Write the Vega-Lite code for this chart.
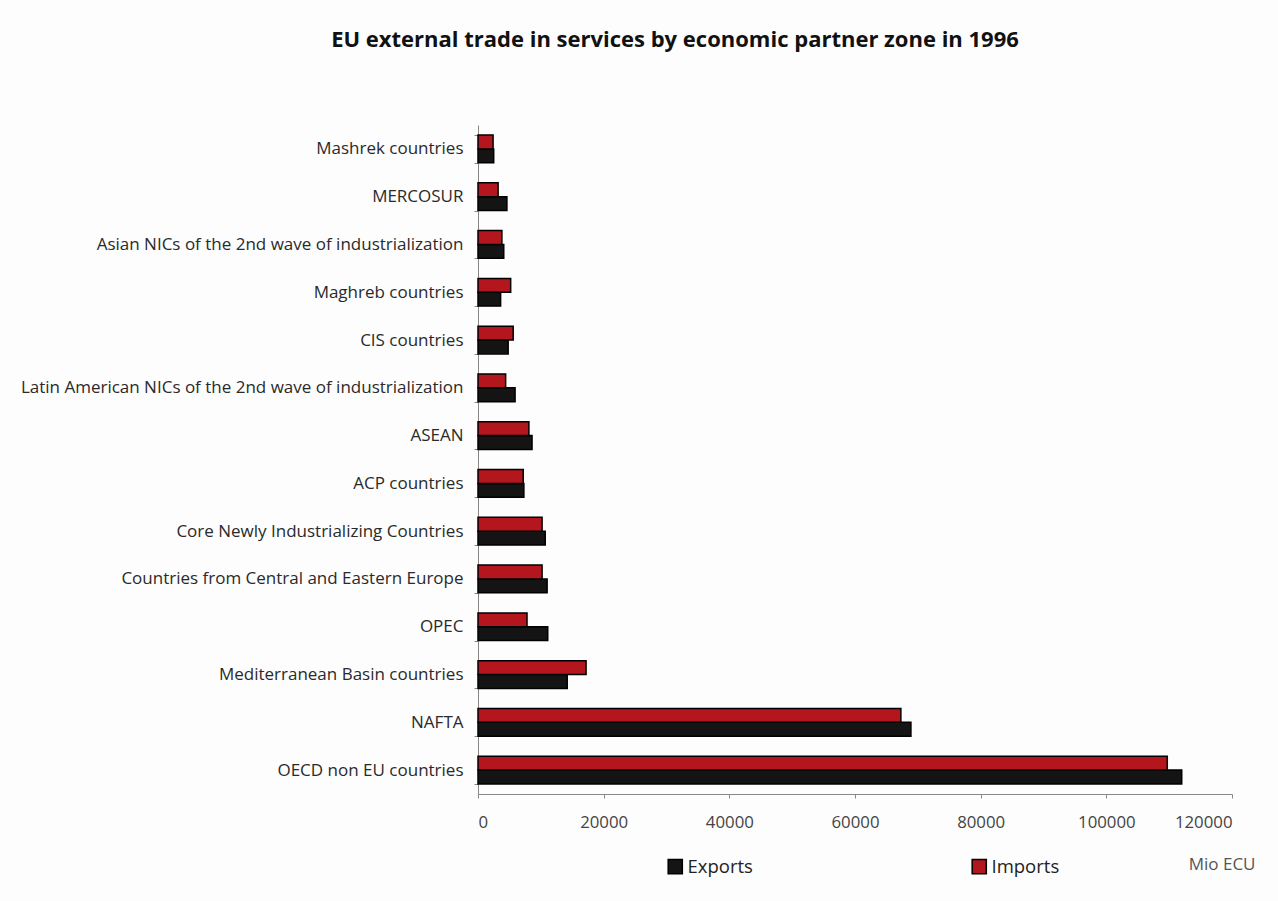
{
  "$schema": "https://vega.github.io/schema/vega-lite/v6.json",
  "autosize": {"type": "none"},
  "padding": {"left": 478, "top": 125, "right": 46, "bottom": 107},
  "width": 754,
  "height": 669,
  "background": "#fdfdfd",
  "title": {
    "text": "EU external trade in services by economic partner zone in 1996",
    "font": "Open Sans",
    "fontSize": 22,
    "fontWeight": "bold",
    "color": "#111111",
    "anchor": "middle",
    "dx": -180,
    "offset": 64
  },
  "data": {
    "values": [
      {"zone": "Mashrek countries", "flow": "Exports", "value": 2500},
      {"zone": "Mashrek countries", "flow": "Imports", "value": 2400},
      {"zone": "MERCOSUR", "flow": "Exports", "value": 4600},
      {"zone": "MERCOSUR", "flow": "Imports", "value": 3200},
      {"zone": "Asian NICs of the 2nd wave of industrialization", "flow": "Exports", "value": 4100},
      {"zone": "Asian NICs of the 2nd wave of industrialization", "flow": "Imports", "value": 3800},
      {"zone": "Maghreb countries", "flow": "Exports", "value": 3600},
      {"zone": "Maghreb countries", "flow": "Imports", "value": 5200},
      {"zone": "CIS countries", "flow": "Exports", "value": 4800},
      {"zone": "CIS countries", "flow": "Imports", "value": 5600},
      {"zone": "Latin American NICs of the 2nd wave of industrialization", "flow": "Exports", "value": 5900},
      {"zone": "Latin American NICs of the 2nd wave of industrialization", "flow": "Imports", "value": 4400},
      {"zone": "ASEAN", "flow": "Exports", "value": 8600},
      {"zone": "ASEAN", "flow": "Imports", "value": 8100},
      {"zone": "ACP countries", "flow": "Exports", "value": 7300},
      {"zone": "ACP countries", "flow": "Imports", "value": 7200},
      {"zone": "Core Newly Industrializing Countries", "flow": "Exports", "value": 10700},
      {"zone": "Core Newly Industrializing Countries", "flow": "Imports", "value": 10200},
      {"zone": "Countries from Central and Eastern Europe", "flow": "Exports", "value": 11000},
      {"zone": "Countries from Central and Eastern Europe", "flow": "Imports", "value": 10200},
      {"zone": "OPEC", "flow": "Exports", "value": 11100},
      {"zone": "OPEC", "flow": "Imports", "value": 7800},
      {"zone": "Mediterranean Basin countries", "flow": "Exports", "value": 14200},
      {"zone": "Mediterranean Basin countries", "flow": "Imports", "value": 17200},
      {"zone": "NAFTA", "flow": "Exports", "value": 68900},
      {"zone": "NAFTA", "flow": "Imports", "value": 67300},
      {"zone": "OECD non EU countries", "flow": "Exports", "value": 112000},
      {"zone": "OECD non EU countries", "flow": "Imports", "value": 109700}
    ]
  },
  "mark": {"type": "bar", "stroke": "#000000", "strokeWidth": 1.5},
  "encoding": {
    "y": {
      "field": "zone",
      "type": "nominal",
      "sort": [
        "Mashrek countries", "MERCOSUR", "Asian NICs of the 2nd wave of industrialization",
        "Maghreb countries", "CIS countries", "Latin American NICs of the 2nd wave of industrialization",
        "ASEAN", "ACP countries", "Core Newly Industrializing Countries",
        "Countries from Central and Eastern Europe", "OPEC", "Mediterranean Basin countries",
        "NAFTA", "OECD non EU countries"
      ],
      "scale": {"paddingInner": 0.42, "paddingOuter": 0.21},
      "axis": {
        "title": null,
        "labelFont": "Open Sans",
        "labelFontSize": 17,
        "labelColor": "#2a2a2a",
        "labelPadding": 11,
        "labelLimit": 600,
        "tickBand": "extent",
        "tickSize": 4,
        "tickColor": "#888888",
        "domainColor": "#888888",
        "grid": false
      }
    },
    "yOffset": {"field": "flow", "type": "nominal", "sort": ["Imports", "Exports"]},
    "x": {
      "field": "value",
      "type": "quantitative",
      "scale": {"domain": [0, 120000], "nice": false},
      "axis": {
        "values": [0, 20000, 40000, 60000, 80000, 100000, 120000],
        "format": "d",
        "title": "Mio ECU",
        "titleFont": "Open Sans",
        "titleFontSize": 17,
        "titleFontWeight": "normal",
        "titleColor": "#555555",
        "titleX": 777,
        "titleY": 62,
        "titleAlign": "right",
        "labelFont": "Open Sans",
        "labelFontSize": 16.8,
        "labelColor": "#444444",
        "labelPadding": 16,
        "tickSize": 4,
        "tickColor": "#888888",
        "domainColor": "#888888",
        "grid": false
      }
    },
    "color": {
      "field": "flow",
      "type": "nominal",
      "scale": {"domain": ["Exports", "Imports"], "range": ["#141414", "#b3161c"]},
      "legend": {
        "title": null,
        "orient": "none",
        "direction": "horizontal",
        "legendX": 188,
        "legendY": 732,
        "symbolType": "square",
        "symbolSize": 200,
        "symbolStrokeColor": "#000000",
        "symbolStrokeWidth": 1.5,
        "labelFont": "Open Sans",
        "labelFontSize": 18.5,
        "labelColor": "#222222",
        "labelOffset": 3,
        "columnPadding": 216
      }
    }
  },
  "config": {"view": {"stroke": null}}
}
